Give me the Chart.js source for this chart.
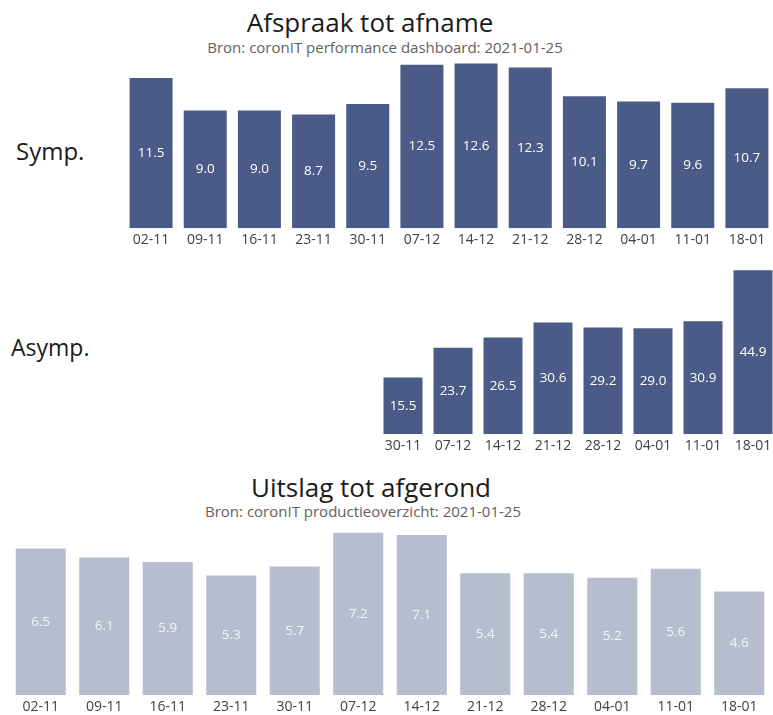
<!DOCTYPE html>
<html>
<head>
<meta charset="utf-8">
<script src="https://cdn.jsdelivr.net/npm/chart.js@4"></script>
<style>
  html, body { margin: 0; padding: 0; background: #fff; overflow: hidden; }
  body { width: 773px; height: 715px; position: relative; font-family: "Open Sans", "Noto Sans", sans-serif; }
  .titel { position: absolute; transform: translateX(-50%); white-space: nowrap; color: #1b1b1b; font-size: 26px; line-height: 26px; }
  .bron { position: absolute; transform: translateX(-50%); white-space: nowrap; color: #5f5f5f; font-size: 15px; line-height: 15px; }
  .rij { position: absolute; color: #1b1b1b; font-size: 24px; line-height: 24px; }
  canvas { position: absolute; }
</style>
</head>
<body>
<div class="titel" style="left:370px; top:9px;">Afspraak tot afname</div>
<div class="bron" style="left:385px; top:40px;">Bron: coronIT performance dashboard: 2021-01-25</div>
<div class="rij" style="left:16px; top:139px;">Symp.</div>
<div class="rij" style="left:11px; top:335px; font-size:23px;">Asymp.</div>
<div class="titel" style="left:371px; top:474px;">Uitslag tot afgerond</div>
<div class="bron" style="left:363px; top:504px;">Bron: coronIT productieoverzicht: 2021-01-25</div>

<canvas id="grafiekSymp" width="650" height="191" style="left:124px; top:60px;"></canvas>
<canvas id="grafiekAsymp" width="400" height="189" style="left:378px; top:268px;"></canvas>
<canvas id="grafiekUitslag" width="762" height="190" style="left:9px; top:528px;"></canvas>

<script>
// weken (maandag)
const wekenSymp = ['02-11', '09-11', '16-11', '23-11', '30-11', '07-12', '14-12', '21-12', '28-12', '04-01', '11-01', '18-01'];
const wekenAsymp = ['30-11', '07-12', '14-12', '21-12', '28-12', '04-01', '11-01', '18-01'];
const wekenUitslag = ['02-11', '09-11', '16-11', '23-11', '30-11', '07-12', '14-12', '21-12', '28-12', '04-01', '11-01', '18-01'];

// uren afspraak tot afname
const symp = [11.5, 9.0, 9.0, 8.7, 9.5, 12.5, 12.6, 12.3, 10.1, 9.7, 9.6, 10.7];
const asymp = [15.5, 23.7, 26.5, 30.6, 29.2, 29.0, 30.9, 44.9];

// uren uitslag tot afgerond
const uitslag = [6.5, 6.1, 5.9, 5.3, 5.7, 7.2, 7.1, 5.4, 5.4, 5.2, 5.6, 4.6];

const donker = '#4b5b87';
const licht = '#b5bdcf';

// waarde midden in de balk schrijven
const waardeLabels = {
    id: 'waardeLabels',
    afterDatasetsDraw(chart, args, opts) {
        const ctx = chart.ctx;
        ctx.save();
        ctx.font = '13.5px "Open Sans", "Noto Sans", sans-serif';
        ctx.fillStyle = opts.kleur || '#ffffff';
        ctx.textAlign = 'center';
        ctx.textBaseline = 'middle';
        chart.getDatasetMeta(0).data.forEach((balk, i) => {
            const waarde = chart.data.datasets[0].data[i];
            ctx.fillText(waarde.toFixed(1), balk.x, (balk.y + balk.base) / 2);
        });
        ctx.restore();
    }
};

function maakGrafiek(id, labels, waarden, kleur, maxY, balkBreedte, padding, labelKleur) {
    return new Chart(document.getElementById(id), {
        type: 'bar',
        data: {
            labels: labels,
            datasets: [{
                data: waarden,
                backgroundColor: kleur,
                borderWidth: 0,
                barPercentage: balkBreedte,
                categoryPercentage: 1
            }]
        },
        options: {
            responsive: false,
            animation: false,
            layout: { padding: 0 },
            plugins: {
                legend: { display: false },
                tooltip: { enabled: false },
                waardeLabels: { kleur: labelKleur }
            },
            scales: {
                x: {
                    grid: { display: false, drawTicks: false },
                    border: { display: false },
                    ticks: {
                        color: '#404040',
                        padding: padding,
                        font: { family: '"Open Sans", "Noto Sans", sans-serif', size: 14 }
                    }
                },
                y: { display: false, min: 0, max: maxY }
            }
        },
        plugins: [waardeLabels]
    });
}

maakGrafiek('grafiekSymp', wekenSymp, symp, donker, 12.87, 0.794, 3, '#ffffff');
maakGrafiek('grafiekAsymp', wekenAsymp, asymp, donker, 45.5, 0.78, 3, '#ffffff');
maakGrafiek('grafiekUitslag', wekenUitslag, uitslag, licht, 7.41, 0.788, 3, '#f4f5f8');
</script>
</body>
</html>
